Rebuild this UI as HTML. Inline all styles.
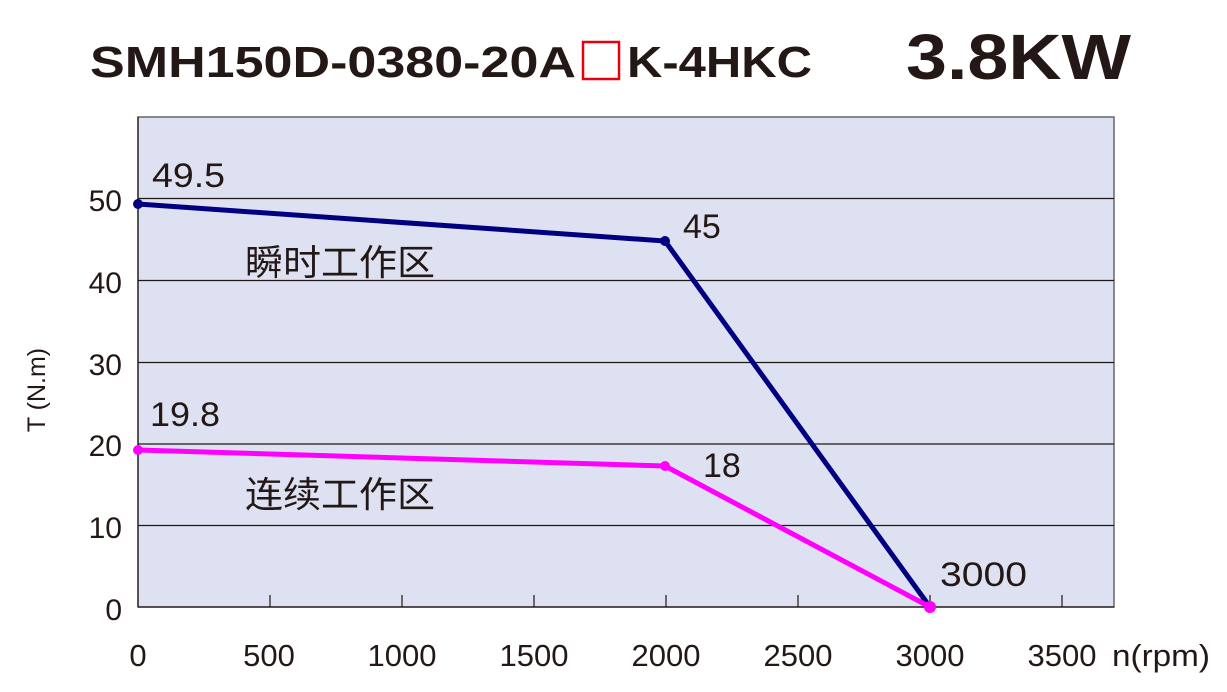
<!DOCTYPE html>
<html><head><meta charset="utf-8"><style>body{margin:0;background:#fff}</style></head><body>
<svg width="1227" height="687" xmlns="http://www.w3.org/2000/svg" font-family="Liberation Sans, Noto Sans CJK SC, sans-serif">
<text x="90" y="77" font-size="44" font-weight="bold" fill="#231815" textLength="486" lengthAdjust="spacingAndGlyphs">SMH150D-0380-20A</text>
<rect x="583" y="42" width="36" height="37" fill="none" stroke="#e60012" stroke-width="2.5"/>
<text x="627" y="77" font-size="44" font-weight="bold" fill="#231815" textLength="185" lengthAdjust="spacingAndGlyphs">K-4HKC</text>
<text x="906" y="79" font-size="64" font-weight="bold" fill="#231815" textLength="225" lengthAdjust="spacingAndGlyphs">3.8KW</text>
<rect x="138" y="117" width="976" height="490" fill="#dde1f1" stroke="#666" stroke-width="1.5"/>
<g stroke="#231815" stroke-width="1.2">
<line x1="138" y1="198.5" x2="1114" y2="198.5"/><line x1="138" y1="280.5" x2="1114" y2="280.5"/>
<line x1="138" y1="362.5" x2="1114" y2="362.5"/><line x1="138" y1="444" x2="1114" y2="444"/>
<line x1="138" y1="525.5" x2="1114" y2="525.5"/>
<line x1="138" y1="117" x2="138" y2="607"/><line x1="138" y1="607" x2="1114" y2="607"/>
<line x1="270" y1="595" x2="270" y2="607"/><line x1="402" y1="595" x2="402" y2="607"/>
<line x1="534" y1="595" x2="534" y2="607"/><line x1="666" y1="595" x2="666" y2="607"/>
<line x1="798" y1="595" x2="798" y2="607"/><line x1="930" y1="595" x2="930" y2="607"/>
<line x1="1062" y1="595" x2="1062" y2="607"/>
</g>
<g font-size="30" fill="#231815" text-anchor="end">
<text x="122" y="211">50</text><text x="122" y="293">40</text><text x="122" y="375">30</text>
<text x="122" y="456">20</text><text x="122" y="538">10</text><text x="122" y="620">0</text>
</g>
<g font-size="31" fill="#231815" text-anchor="middle">
<text x="138" y="666">0</text><text x="269" y="666">500</text><text x="402" y="666">1000</text>
<text x="534" y="666">1500</text><text x="666" y="666">2000</text><text x="798" y="666">2500</text>
<text x="930" y="666">3000</text><text x="1062" y="666">3500</text>
</g>
<text x="1112" y="666" font-size="31" fill="#231815" textLength="98" lengthAdjust="spacingAndGlyphs">n(rpm)</text>
<text transform="translate(45,390) rotate(-90)" font-size="25" fill="#231815" text-anchor="middle">T (N.m)</text>
<polyline points="138,204 665,241 930,607" fill="none" stroke="#000080" stroke-width="5"/>
<polyline points="138,450 665,466 930,607" fill="none" stroke="#ff00ff" stroke-width="5"/>
<circle cx="138" cy="204" r="5" fill="#000080"/><circle cx="665" cy="241" r="5" fill="#000080"/>
<circle cx="138" cy="450" r="5" fill="#ff00ff"/><circle cx="665" cy="466" r="5" fill="#ff00ff"/>
<circle cx="930" cy="607" r="6" fill="#ff00ff"/>
<g font-size="34" fill="#231815">
<text x="152" y="187" textLength="73" lengthAdjust="spacingAndGlyphs">49.5</text><text x="683" y="238">45</text>
<text x="150" y="426" textLength="70" lengthAdjust="spacingAndGlyphs">19.8</text><text x="703" y="477">18</text>
<text x="940" y="586" textLength="87" lengthAdjust="spacingAndGlyphs">3000</text>
</g>
<g font-size="36" fill="#231815">
<text x="245" y="275" textLength="190" lengthAdjust="spacingAndGlyphs">瞬时工作区</text>
<text x="245" y="507" textLength="190" lengthAdjust="spacingAndGlyphs">连续工作区</text>
</g>
</svg>
</body></html>
